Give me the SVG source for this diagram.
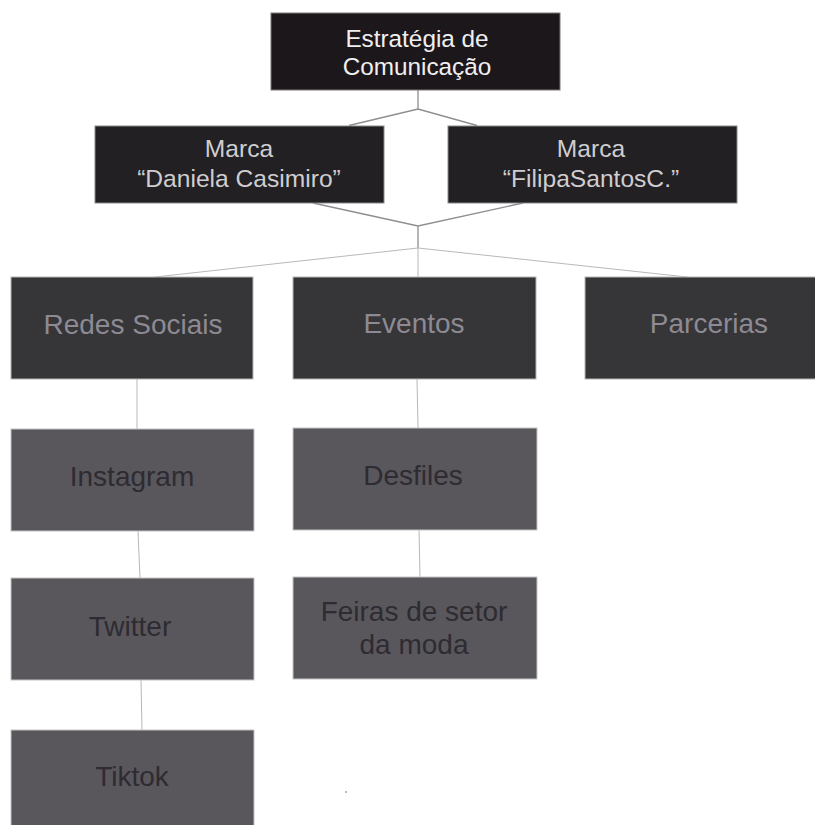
<svg xmlns="http://www.w3.org/2000/svg" width="815" height="825" viewBox="0 0 815 825">
<style>
text{font-family:"Liberation Sans",Arial,sans-serif;text-anchor:middle}
.b0{fill:#1c171b;stroke:#7a787b;stroke-width:1}
.b1{fill:#222023;stroke:#8a888b;stroke-width:1}
.b2{fill:#363538;stroke:#b5b5b5;stroke-width:1}
.b3{fill:#59575b;stroke:#c4c4c4;stroke-width:1}
.t0{font-size:24.3px;fill:#f0eff0}
.t1{font-size:24.6px;fill:#cfcdd0}
.t2{font-size:28px;fill:#8d8a93}
.t3{font-size:28px;fill:#2e2b32}
.c1{fill:none;stroke:#8e8e8e;stroke-width:1.3}
.c2{fill:none;stroke:#b8b8b8;stroke-width:1}
</style>
<rect width="815" height="825" fill="#ffffff"/>
<g id="connectors">
<path class="c1" d="M418,90 V109 M349,125.5 L418,109 L477,125.5"/>
<path class="c1" d="M313,203 L418,226 L523,203 M418,226 V248"/>
<path class="c2" d="M155,277 L418,248 L687,277 M418,248 V277"/>
<path class="c2" d="M137,379 L137,429 M138,531 L140,578 M141,680 L142,730"/>
<path class="c2" d="M417,379 L418,428 M419,530 L420,577"/>
</g>
<g id="n-estrategia">
<rect class="b0" x="271" y="13" width="289" height="77"/>
<text class="t0" x="417" y="47">Estratégia de</text>
<text class="t0" x="417" y="75">Comunicação</text>
</g>
<g id="n-daniela">
<rect class="b1" x="95" y="126" width="289" height="77"/>
<text class="t1" x="239" y="157">Marca</text>
<text class="t1" x="239" y="187">“Daniela Casimiro”</text>
</g>
<g id="n-filipa">
<rect class="b1" x="448" y="126" width="289" height="77"/>
<text class="t1" x="591" y="157">Marca</text>
<text class="t1" x="591" y="187">“FilipaSantosC.”</text>
</g>
<g id="n-redes">
<rect class="b2" x="11" y="277" width="242" height="102"/>
<text class="t2" x="133" y="334">Redes Sociais</text>
</g>
<g id="n-eventos">
<rect class="b2" x="293" y="277" width="243" height="102"/>
<text class="t2" x="414" y="333">Eventos</text>
</g>
<g id="n-parcerias">
<rect class="b2" x="585" y="277" width="243" height="102"/>
<text class="t2" x="709" y="333">Parcerias</text>
</g>
<g id="n-instagram">
<rect class="b3" x="11" y="429" width="243" height="102"/>
<text class="t3" x="132" y="486">Instagram</text>
</g>
<g id="n-twitter">
<rect class="b3" x="11" y="578" width="243" height="102"/>
<text class="t3" x="130" y="636">Twitter</text>
</g>
<g id="n-tiktok">
<rect class="b3" x="11" y="730" width="243" height="102"/>
<text class="t3" x="132" y="786">Tiktok</text>
</g>
<g id="n-desfiles">
<rect class="b3" x="293" y="428" width="244" height="102"/>
<text class="t3" x="413" y="485">Desfiles</text>
</g>
<g id="n-feiras">
<rect class="b3" x="293" y="577" width="244" height="102"/>
<text class="t3" x="414" y="621">Feiras de setor</text>
<text class="t3" x="414" y="654">da moda</text>
</g>
<rect x="345" y="791" width="2" height="2" fill="#bdbdbd"/>
</svg>
